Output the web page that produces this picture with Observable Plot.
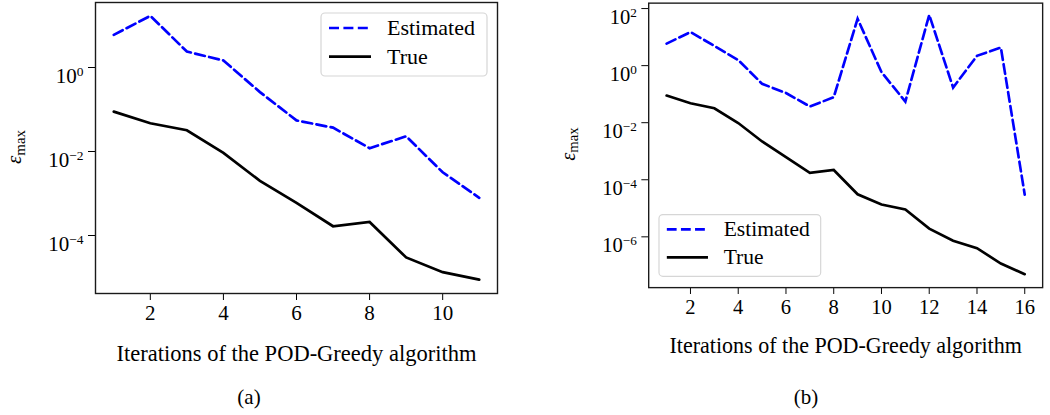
<!DOCTYPE html>
<html><head><meta charset="utf-8">
<script src="https://cdn.jsdelivr.net/npm/d3@7"></script>
<script src="https://cdn.jsdelivr.net/npm/@observablehq/plot@0.6"></script>
<style>
body{margin:0;background:#fff;width:1050px;height:415px;overflow:hidden;position:relative;font-family:"Liberation Serif",serif;}
.panel{position:absolute;top:0;}
.cap{position:absolute;font-size:21px;transform:translate(-50%,-50%);white-space:nowrap;}
</style></head><body>
<div id="a" class="panel" style="left:0"></div>
<div id="b" class="panel" style="left:560px"></div>
<div class="cap" style="left:249px;top:397px">(a)</div>
<div class="cap" style="left:806px;top:397px">(b)</div>
<script>
// ---- data ----
const iterA = [1, 2, 3, 4, 5, 6, 7, 8, 9, 10, 11];
const estimatedA = [6.0, 17, 2.4, 1.47, 0.26, 0.055, 0.037, 0.012, 0.023, 0.0032, 0.00079];
const trueA = [0.089, 0.047, 0.032, 0.0093, 0.0020, 0.0006, 0.000166, 0.00021, 3.0e-5, 1.34e-5, 8.9e-6];

const iterB = [1, 2, 3, 4, 5, 6, 7, 8, 9, 10, 11, 12, 13, 14, 15, 16];
const estimatedB = [5.9, 15, 4.9, 1.57, 0.23, 0.11, 0.037, 0.078, 44, 0.59, 0.055, 60, 0.17, 2.2, 4.3, 3.0e-5];
const trueB = [0.089, 0.048, 0.032, 0.0097, 0.0022, 0.00062, 0.000175, 0.00022, 3.1e-5, 1.36e-5, 9.1e-6, 1.94e-6, 7.3e-7, 4.0e-7, 1.16e-7, 4.9e-8];

const xTicksA = [2, 4, 6, 8, 10];
const xTicksB = [2, 4, 6, 8, 10, 12, 14, 16];
const yTicksA = [1, 1e-2, 1e-4];
const yTicksB = [1e2, 1, 1e-2, 1e-4, 1e-6];
const seriesNames = ["Estimated", "True"];
const xLabel = "Iterations of the POD-Greedy algorithm";
const yLabelMain = "ε";
const yLabelSub = "max";

const colors = {Estimated: "#0000ff", True: "#000000"};
const dashes = {Estimated: "10,4.4", True: null};

function powLabel(d) {
  const e = Math.round(Math.log10(d));
  return "10^" + e;
}

function makePanel(el, cfg) {
  const rows = [];
  cfg.iter.forEach((k, i) => {
    rows.push({k, v: cfg.est[i], s: "Estimated"});
    rows.push({k, v: cfg.tru[i], s: "True"});
  });
  const svg = Plot.plot({
    width: 500, height: 380,
    marginTop: cfg.marginTop, marginBottom: 380 - 293, marginLeft: cfg.marginLeft, marginRight: cfg.marginRight,
    style: {fontFamily: "Liberation Serif", fontSize: "21px", color: "#000", background: "transparent", overflow: "visible"},
    x: {domain: cfg.xDomain, ticks: cfg.xTicks, tickSize: 7, tickPadding: 5, tickFormat: d => String(d),
        label: xLabel, labelAnchor: "center", labelArrow: "none", labelOffset: 67},
    y: {type: "log", domain: cfg.yDomain, ticks: cfg.yTicks, tickSize: 7, tickPadding: 5, tickFormat: powLabel, label: null},
    marks: seriesNames.map(s => Plot.line(rows.filter(d => d.s === s), {
      x: "k", y: "v", stroke: colors[s], strokeWidth: 2.7, strokeDasharray: dashes[s], strokeLinejoin: "miter", strokeMiterlimit: 4
    })).concat([Plot.frame({stroke: "#1a1a1a", strokeWidth: 1.4})])
  });
  const s = d3.select(svg);
  // superscript exponents on log ticks
  s.selectAll("text").each(function() {
    const t = d3.select(this);
    const m = /^10\^(-?\d+)$/.exec(t.text());
    if (m) {
      t.text("10").attr("dy", "0.42em");
      t.append("tspan").attr("dy", "-7.2px").attr("font-size", "13.5px").text(m[1].replace("-", "\u2212"));
    } else if (t.text() === xLabel) {
      t.attr("font-size", "22.5px");
    }
  });
  // y label
  const yl = s.append("text").attr("transform", `translate(${cfg.yLabelX},147) rotate(-90)`)
    .attr("text-anchor", "middle").attr("font-size", "21px").attr("fill", "#000");
  yl.append("tspan").attr("font-style", "italic").text(yLabelMain);
  yl.append("tspan").attr("dy", "0.25em").attr("font-size", "15px").text(yLabelSub);
  // legend
  const L = cfg.legend;
  const g = s.append("g");
  g.append("rect").attr("x", L.x).attr("y", L.y).attr("width", L.w).attr("height", L.h).attr("rx", 4)
    .attr("fill", "#fff").attr("fill-opacity", 0.8).attr("stroke", "#d6d6d6").attr("stroke-width", 1.2);
  seriesNames.forEach((name, i) => {
    const yy = L.y + 15 + i * 28.7;
    g.append("line").attr("x1", L.x + 8).attr("x2", L.x + 50).attr("y1", yy).attr("y2", yy)
      .attr("stroke", colors[name]).attr("stroke-width", 2.7).attr("stroke-dasharray", dashes[name]);
    g.append("text").attr("x", L.x + 66).attr("y", yy).attr("dy", "0.32em").attr("font-size", "22px")
      .attr("text-anchor", "start").attr("fill", "#000").text(name);
  });
  el.appendChild(svg);
}

makePanel(document.getElementById("a"), {
  iter: iterA, est: estimatedA, tru: trueA,
  xDomain: [0.5, 11.5], xTicks: xTicksA,
  yDomain: [Math.pow(10, -5.381), Math.pow(10, 1.548)], yTicks: yTicksA,
  marginTop: 2, marginLeft: 95, marginRight: 3, yLabelX: 21,
  legend: {x: 321, y: 13, w: 166, h: 63}
});
makePanel(document.getElementById("b"), {
  iter: iterB, est: estimatedB, tru: trueB,
  xDomain: [0.25, 16.75], xTicks: xTicksB,
  yDomain: [Math.pow(10, -7.78), Math.pow(10, 2.19)], yTicks: yTicksB,
  marginTop: 2.7, marginLeft: 90, marginRight: 8, yLabelX: 15,
  legend: {x: 101, y: 219, w: 165, h: 63}
});
</script>
</body></html>
